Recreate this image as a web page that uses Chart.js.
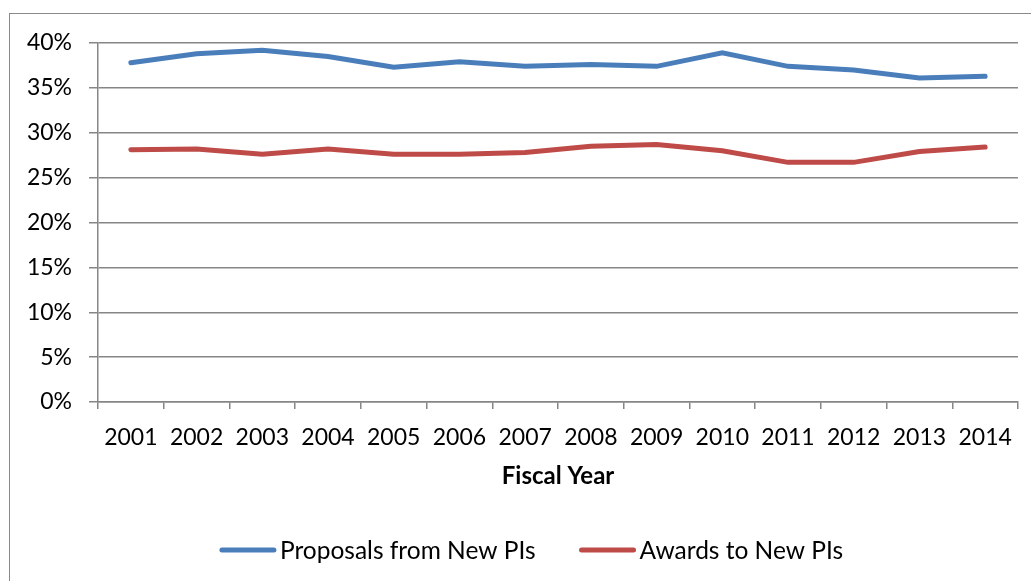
<!DOCTYPE html>
<html>
<head>
<meta charset="utf-8">
<script src="https://cdn.jsdelivr.net/npm/chart.js@4.4.1/dist/chart.umd.min.js"></script>
<style>
    html, body { margin: 0; padding: 0; background: #fff; }
    #wrap { position: relative; width: 1031px; height: 581px; overflow: hidden; }
    #frame { position: absolute; left: 9px; top: 13px; width: 1100px; height: 700px;
             border-left: 1.5px solid #898989; border-top: 1.5px solid #898989; }
    #chartBox { position: absolute; left: 0; top: 0; width: 1031px; height: 581px; }
</style>
</head>
<body>
<div id="wrap">
    <div id="frame"></div>
    <div id="chartBox"><canvas id="lineChart"></canvas></div>
</div>
<script>
// data (percent)
var years = ['2001', '2002', '2003', '2004', '2005', '2006', '2007',
             '2008', '2009', '2010', '2011', '2012', '2013', '2014'];
var proposalsNewPIs = [37.8, 38.8, 39.2, 38.5, 37.3, 37.9, 37.4, 37.6, 37.4, 38.9, 37.4, 37.0, 36.1, 36.3];
var awardsNewPIs = [28.1, 28.2, 27.6, 28.2, 27.6, 27.6, 27.8, 28.5, 28.7, 28.0, 26.7, 26.7, 27.9, 28.4];
var seriesNames = ['Proposals from New PIs', 'Awards to New PIs'];
var seriesColors = ['#4A7EBB', '#BE4B48'];

var gridColor = '#868686';
var fontFamily = 'Lato, "Open Sans", sans-serif';

// Excel-like legend: line sample touching the text, wide gap between items
var excelLegend = {
    id: 'excelLegend',
    afterDraw: function (chart) {
        var c = chart.ctx;
        var lineLen = 56, textGap = 4, itemGap = 44;
        c.save();
        c.font = '24.5px ' + fontFamily;
        c.textBaseline = 'middle';
        c.textAlign = 'left';
        var widths = chart.data.datasets.map(function (ds) {
            return c.measureText(ds.label).width;
        });
        var total = 0;
        widths.forEach(function (w, i) {
            total += lineLen + textGap + w + (i > 0 ? itemGap : 0);
        });
        var x = chart.width / 2 + 16 - total / 2;
        var y = 550;
        chart.data.datasets.forEach(function (ds, i) {
            c.strokeStyle = ds.borderColor;
            c.lineWidth = 5;
            c.lineCap = 'round';
            c.beginPath();
            c.moveTo(x + 2, y);
            c.lineTo(x + lineLen - 2, y);
            c.stroke();
            c.fillStyle = '#000';
            c.fillText(ds.label, x + lineLen + textGap, y + 1);
            x += lineLen + textGap + widths[i] + itemGap;
        });
        c.restore();
    }
};

var ctx = document.getElementById('lineChart').getContext('2d');
var lineChart = new Chart(ctx, {
    type: 'line',
    data: {
        labels: years,
        datasets: [
            {
                label: seriesNames[0],
                data: proposalsNewPIs,
                borderColor: seriesColors[0],
                backgroundColor: seriesColors[0],
                borderWidth: 5,
                pointRadius: 0,
                borderCapStyle: 'round',
                tension: 0
            },
            {
                label: seriesNames[1],
                data: awardsNewPIs,
                borderColor: seriesColors[1],
                backgroundColor: seriesColors[1],
                borderWidth: 5,
                pointRadius: 0,
                borderCapStyle: 'round',
                tension: 0
            }
        ]
    },
    options: {
        responsive: true,
        maintainAspectRatio: false,
        animation: false,
        layout: {
            padding: { left: 10, right: 13, top: 43, bottom: 53 }
        },
        scales: {
            x: {
                offset: true,
                grid: {
                    offset: true,
                    drawOnChartArea: false,
                    drawTicks: true,
                    tickLength: 7,
                    color: gridColor,
                    lineWidth: 1.5
                },
                border: { color: gridColor, width: 1.5 },
                ticks: {
                    color: '#000',
                    font: { family: fontFamily, size: 23 },
                    padding: 15,
                    maxRotation: 0,
                    autoSkip: false
                },
                title: {
                    display: true,
                    text: 'Fiscal Year',
                    color: '#000',
                    font: { family: fontFamily, size: 24, weight: 'bold' },
                    padding: { top: 4, bottom: 37 }
                },
                afterFit: function (scale) {
                    scale.height = 126;
                }
            },
            y: {
                min: 0,
                max: 40,
                grid: {
                    color: gridColor,
                    lineWidth: 1.5,
                    tickLength: 9
                },
                border: { color: gridColor, width: 1.5 },
                ticks: {
                    stepSize: 5,
                    color: '#000',
                    font: { family: fontFamily, size: 23 },
                    padding: 17,
                    callback: function (value) {
                        return value + '%';
                    }
                },
                afterFit: function (scale) {
                    scale.width = 88;
                }
            }
        },
        plugins: {
            legend: { display: false },
            tooltip: { enabled: false }
        }
    },
    plugins: [excelLegend]
});
</script>
</body>
</html>
